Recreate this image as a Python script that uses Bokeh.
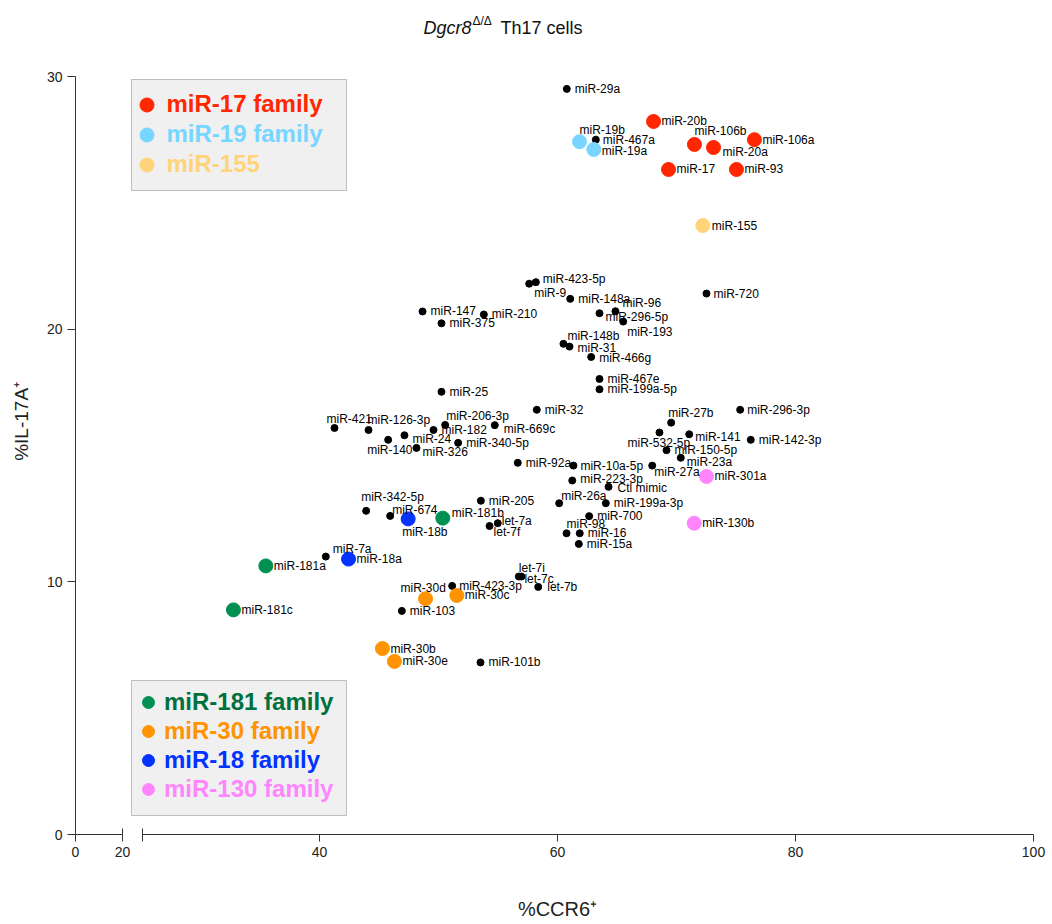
import math

from bokeh.plotting import figure
from bokeh.layouts import row, column
from bokeh.models import (ColumnDataSource, Range1d, FixedTicker, Label, Legend,
                          LegendItem, BoxAnnotation)
from bokeh.core.properties import value
from bokeh.embed import file_html
from bokeh.resources import INLINE

# ---- data: %CCR6+ vs %IL-17A+ for each transfected miRNA mimic ----
mirna = [
    "miR-29a", "miR-20b", "miR-19b", "miR-467a", "miR-106b", "miR-106a", "miR-19a",
    "miR-20a", "miR-17", "miR-93", "miR-155", "miR-423-5p", "miR-9", "miR-148a",
    "miR-96", "miR-720", "miR-147", "miR-210", "miR-296-5p", "miR-375", "miR-193",
    "miR-148b", "miR-31", "miR-466g", "miR-467e", "miR-199a-5p", "miR-25", "miR-32",
    "miR-296-3p", "miR-421", "miR-126-3p", "miR-206-3p", "miR-182", "miR-669c",
    "miR-27b", "miR-24", "miR-140", "miR-326", "miR-340-5p", "miR-532-5p", "miR-141",
    "miR-142-3p", "miR-150-5p", "miR-23a", "miR-27a", "miR-301a", "miR-92a",
    "miR-10a-5p", "miR-223-3p", "Ctl mimic", "miR-342-5p", "miR-205", "miR-26a",
    "miR-199a-3p", "miR-674", "miR-18b", "miR-181b", "let-7a", "let-7f", "miR-700",
    "miR-98", "miR-16", "miR-15a", "miR-130b", "miR-7a", "miR-18a", "miR-181a",
    "let-7i", "let-7c", "let-7b", "miR-30d", "miR-423-3p", "miR-30c", "miR-103",
    "miR-181c", "miR-30b", "miR-30e", "miR-101b",
]
ccr6 = [
    60.78, 68.07, 61.85, 63.22, 71.51, 76.55, 63.05,
    73.11, 69.33, 75.04, 72.21, 58.18, 57.62, 61.07,
    64.87, 72.52, 48.66, 53.81, 63.53, 50.25, 65.52,
    60.50, 61.01, 62.83, 63.53, 63.53, 50.25, 58.26,
    75.35, 41.26, 44.12, 50.56, 49.58, 54.73,
    69.55, 47.14, 45.77, 48.15, 51.65, 68.57, 71.07,
    76.24, 69.16, 70.36, 67.96, 72.52, 56.66,
    61.34, 61.24, 64.29, 43.92, 53.56, 60.14,
    64.06, 45.94, 47.45, 50.36, 54.98, 54.29, 62.66,
    60.76, 61.87, 61.79, 71.49, 40.53, 42.44, 35.49,
    56.75, 56.97, 58.38, 48.91, 51.15, 51.54, 46.92,
    32.77, 45.29, 46.30, 53.53,
]
il17a = [
    29.51, 28.22, 27.42, 27.50, 27.31, 27.50, 27.11,
    27.19, 26.32, 26.32, 24.10, 21.86, 21.80, 21.20,
    20.71, 21.41, 20.70, 20.58, 20.63, 20.23, 20.30,
    19.42, 19.31, 18.90, 18.03, 17.62, 17.52, 16.81,
    16.81, 16.09, 16.01, 16.21, 16.01, 16.20,
    16.30, 15.80, 15.62, 15.30, 15.50, 15.91, 15.84,
    15.62, 15.21, 14.91, 14.60, 14.17, 14.71,
    14.60, 14.01, 13.76, 12.81, 13.21, 13.11,
    13.11, 12.61, 12.49, 12.52, 12.32, 12.21, 12.60,
    11.92, 11.92, 11.50, 12.32, 11.00, 10.90, 10.63,
    10.21, 10.21, 9.80, 9.33, 9.84, 9.46, 8.85,
    8.89, 7.36, 6.85, 6.81,
]
family_of = {
    "miR-17": "miR-17", "miR-20a": "miR-17", "miR-20b": "miR-17", "miR-93": "miR-17",
    "miR-106a": "miR-17", "miR-106b": "miR-17",
    "miR-19a": "miR-19", "miR-19b": "miR-19",
    "miR-155": "miR-155",
    "miR-181a": "miR-181", "miR-181b": "miR-181", "miR-181c": "miR-181",
    "miR-30b": "miR-30", "miR-30c": "miR-30", "miR-30d": "miR-30", "miR-30e": "miR-30",
    "miR-18a": "miR-18", "miR-18b": "miR-18",
    "miR-130b": "miR-130", "miR-301a": "miR-130",
}
families_top = ["miR-17", "miR-19", "miR-155"]
families_bottom = ["miR-181", "miR-30", "miR-18", "miR-130"]
legend_labels = {
    "miR-17": "miR-17 family", "miR-19": "miR-19 family", "miR-155": "miR-155",
    "miR-181": "miR-181 family", "miR-30": "miR-30 family", "miR-18": "miR-18 family",
    "miR-130": "miR-130 family",
}
x_ticks_stub = [0, 20]
x_ticks_main = [40, 60, 80, 100]
y_ticks = [0, 10, 20, 30]

# ---- styling ----
FONT = "Liberation Sans"
dot_color = {
    "miR-17": "#FF2600", "miR-19": "#76D6FF", "miR-155": "#FFD479",
    "miR-181": "#009051", "miR-30": "#FF9300", "miR-18": "#0433FF", "miR-130": "#FF85FF",
}
text_color = dict(dot_color, **{"miR-181": "#00703F"})

# where each name sits relative to its dot (pixels, right/down)
label_shift = {
    "miR-19b": (0, -12), "miR-467a": (7, 0), "miR-106b": (0, -13), "miR-19a": (8, 1),
    "miR-20a": (9, 5), "miR-155": (9, 0), "miR-423-5p": (7, -3), "miR-9": (5, 9),
    "miR-96": (7, -8), "miR-720": (7, 0), "miR-210": (8, -1), "miR-296-5p": (6, 4),
    "miR-193": (4, 10), "miR-148b": (4, -8), "miR-31": (8, 1), "miR-466g": (8, 1),
    "miR-296-3p": (7, 0), "miR-421": (-8, -9), "miR-126-3p": (-1, -10),
    "miR-206-3p": (1, -9), "miR-669c": (9, 4), "miR-27b": (-3, -10), "miR-24": (8, 4),
    "miR-140": (-21, 10), "miR-326": (6, 4), "miR-532-5p": (-32, 10), "miR-141": (6, 3),
    "miR-23a": (6, 4), "miR-27a": (2, 6), "miR-10a-5p": (7, 0), "miR-223-3p": (8, -2),
    "Ctl mimic": (9, 1), "miR-342-5p": (-5, -14), "miR-26a": (2, -7), "miR-674": (2, -6),
    "miR-18b": (-6, 13), "miR-181b": (9, -5), "let-7a": (4, -2), "let-7f": (4, 6),
    "miR-98": (0, -9), "miR-7a": (7, -8), "let-7i": (0, -9), "let-7c": (3, 2),
    "let-7b": (9, 0), "miR-30d": (-25, -11), "miR-423-3p": (7, 0),
}
DEFAULT_SHIFT = (8, 0)

# ---- page geometry (pixels) ----
PAGE_W, PAGE_H = 1052, 924
TITLE_H, XTITLE_H = 40, 40
MAIN_H = PAGE_H - TITLE_H - XTITLE_H
FRAME_TOP, FRAME_BOTTOM = 76, 834          # page y of y = 30 and y = 0
YTITLE_W = 40                               # strip holding the y-axis title
AXIS_X = 75                                 # page x of the y axis (x = 0)
STUB_W = 47                                 # 0-20 stub of the broken x axis
STUB_PAD = 8                                # room for the "20" tick label
BREAK_PX = 142                              # page x where the main x axis resumes
MAIN_X0, MAIN_X1 = AXIS_X + STUB_W + STUB_PAD, 1040
PX_PER_UNIT = 11.9
X40_PX = 319                                # page x of x = 40
x_lo = 40 - (X40_PX - MAIN_X0) / PX_PER_UNIT
x_hi = 40 + (MAIN_X1 - X40_PX) / PX_PER_UNIT
break_start = 40 - (X40_PX - BREAK_PX) / PX_PER_UNIT
y_range = Range1d(0, 30)
top_border = FRAME_TOP - TITLE_H
bottom_border = MAIN_H - (FRAME_BOTTOM - TITLE_H)


def at(px, py):
    """Page pixel -> data position in the main panel (for annotations)."""
    return (x_lo + (px - MAIN_X0) / PX_PER_UNIT,
            (FRAME_BOTTOM - py) * 30 / (FRAME_BOTTOM - FRAME_TOP))


def style_axis(ax):
    ax.axis_line_color = "#333333"
    ax.major_tick_line_color = "#333333"
    ax.minor_tick_line_color = "#333333"
    ax.major_label_text_font = FONT
    ax.major_label_text_font_size = "14px"
    ax.major_label_text_color = "#222222"


def blank(width, height, **kw):
    f = figure(width=width, height=height, x_range=Range1d(0, width),
               y_range=Range1d(0, height), x_axis_location=None, y_axis_location=None,
               min_border=0, output_backend="svg", toolbar_location=None, tools="", **kw)
    f.outline_line_color = None
    f.grid.visible = False
    return f


# ---- left panel: y axis and the 0-20 stub of the x axis ----
left = figure(width=AXIS_X - YTITLE_W + STUB_W + STUB_PAD, height=MAIN_H,
              x_range=Range1d(0, 20), y_range=y_range,
              min_border_left=AXIS_X - YTITLE_W, min_border_right=STUB_PAD,
              min_border_top=top_border, min_border_bottom=bottom_border,
              output_backend="svg", toolbar_location=None, tools="")
left.outline_line_color = None
left.grid.visible = False
lx = left.xaxis[0]
style_axis(lx)
lx.ticker = FixedTicker(ticks=x_ticks_stub, minor_ticks=[x_ticks_stub[-1]])
lx.major_tick_in, lx.major_tick_out = 0, 7
lx.minor_tick_in, lx.minor_tick_out = 6, 0
ly = left.yaxis[0]
style_axis(ly)
ly.ticker = FixedTicker(ticks=y_ticks, minor_ticks=[])
ly.major_tick_in, ly.major_tick_out = 0, 8

# ---- main panel ----
p = figure(width=PAGE_W - MAIN_X0, height=MAIN_H, x_range=Range1d(x_lo, x_hi),
           y_range=y_range, y_axis_location=None,
           min_border_left=0, min_border_right=PAGE_W - MAIN_X1,
           min_border_top=top_border, min_border_bottom=bottom_border,
           output_backend="svg", toolbar_location=None, tools="")
p.outline_line_color = None
p.grid.visible = False
ax = p.xaxis[0]
style_axis(ax)
ax.bounds = (break_start, x_ticks_main[-1])
ax.ticker = FixedTicker(ticks=x_ticks_main, minor_ticks=[break_start])
ax.major_tick_in, ax.major_tick_out = 0, 7
ax.minor_tick_in, ax.minor_tick_out = 6, 7

fam = [family_of.get(n, "") for n in mirna]
others = ColumnDataSource(dict(
    x=[x for x, f in zip(ccr6, fam) if not f],
    y=[y for y, f in zip(il17a, fam) if not f]))
p.scatter("x", "y", source=others, size=7, color="black")

renderers = {}
for f in families_top + families_bottom:
    src = ColumnDataSource(dict(
        x=[x for x, g in zip(ccr6, fam) if g == f],
        y=[y for y, g in zip(il17a, fam) if g == f]))
    renderers[f] = p.scatter("x", "y", source=src, size=14, color=dot_color[f])

shifts = [label_shift.get(n, DEFAULT_SHIFT) for n in mirna]
labels = ColumnDataSource(dict(x=ccr6, y=il17a, name=mirna,
                               dx=[s[0] for s in shifts], dy=[s[1] for s in shifts]))
p.text("x", "y", text="name", x_offset="dx", y_offset="dy", source=labels,
       text_font=value(FONT), text_font_size="12px", text_baseline="middle",
       text_align="left", text_color="black")


# ---- legend boxes ----
def legend_box(px0, py0, px1, py1):
    x0, y0 = at(px0, py0)
    x1, y1 = at(px1, py1)
    p.add_layout(BoxAnnotation(left=x0, right=x1, top=y0, bottom=y1, level="underlay",
                               fill_color="#f0f0f0", fill_alpha=1,
                               line_color="#3a3a3a", line_width=1, line_dash="solid"))


def legend_entry(f, glyph_px, dot_x, row_y, standoff):
    leg = Legend(items=[LegendItem(label=legend_labels[f], renderers=[renderers[f]])],
                 location=(dot_x - glyph_px / 2 - MAIN_X0,
                           FRAME_BOTTOM - row_y - glyph_px / 2),
                 glyph_width=glyph_px, glyph_height=glyph_px, label_standoff=standoff,
                 padding=0, margin=0, spacing=0,
                 label_text_font=FONT, label_text_font_size="24px",
                 label_text_font_style="bold", label_text_color=text_color[f],
                 background_fill_alpha=0, border_line_alpha=0)
    p.add_layout(leg, "center")


legend_box(MAIN_X0 + 1, 79, 346, 190)
for f, ry in zip(families_top, [104, 134, 164]):
    legend_entry(f, 35, 146, ry, 3)

legend_box(MAIN_X0 + 1, 680, 346, 815)
for f, ry in zip(families_bottom, [702, 731, 760, 789]):
    legend_entry(f, 30, 148, ry, 1)

# ---- chart title ----
title = blank(PAGE_W, TITLE_H)


def title_text(px, base_py, text, size, style="normal"):
    title.add_layout(Label(x=px, y=TITLE_H - base_py, text=text, text_font=FONT,
                           text_font_size=size, text_font_style=style,
                           text_baseline="alphabetic", text_color="#111111"))


title_text(423, 27, "Dgcr8", "18px", style="italic")
title_text(472, 20, "\u0394/\u0394", "12px")
title_text(500, 27, "Th17 cells", "18px")

# ---- axis titles ----
ytitle = blank(YTITLE_W, MAIN_H)
ytitle.add_layout(Label(x=21, y=MAIN_H - (424 - TITLE_H), text="%IL-17A\u207a",
                        angle=math.pi / 2, text_font=FONT, text_font_size="19px",
                        text_align="center", text_baseline="middle",
                        text_color="#222222"))

xtitle = blank(PAGE_W, XTITLE_H)
xtitle.add_layout(Label(x=557, y=PAGE_H - 908, text="%CCR6\u207a", text_font=FONT,
                        text_font_size="20px", text_align="center",
                        text_baseline="middle", text_color="#222222"))

layout = column(title, row(ytitle, left, p), xtitle)
open("out.html", "w").write(file_html(layout, INLINE))
